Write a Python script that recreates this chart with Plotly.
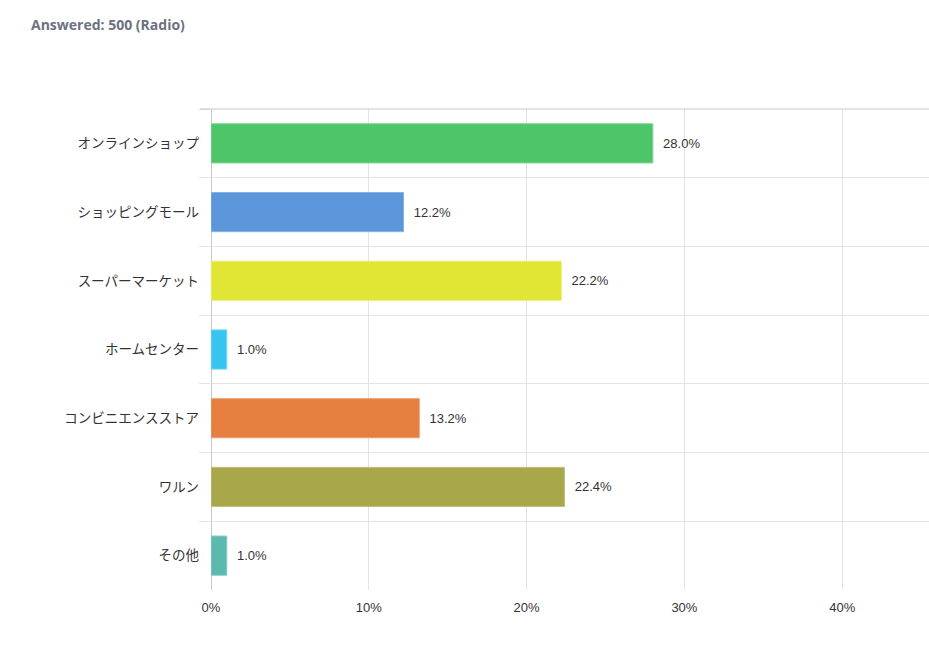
import plotly.graph_objects as go

categories = ["オンラインショップ", "ショッピングモール", "スーパーマーケット", "ホームセンター",
              "コンビニエンスストア", "ワルン", "その他"]
values = [28.0, 12.2, 22.2, 1.0, 13.2, 22.4, 1.0]
colors = ["#4FC56A", "#5B96DA", "#E1E534", "#35C5F0", "#E67E40", "#A8A84A", "#5BB9AE"]
border_colors = ["#7ED494", "#86B1E3", "#EAEE72", "#6FD6F4", "#EDA06F", "#C0C07A", "#87CBC3"]
x_ticks = [0, 10, 20, 30, 40]
x_ticktext = ["0%", "10%", "20%", "30%", "40%"]

font_family = "Arial, 'Liberation Sans', 'Noto Sans CJK JP', sans-serif"

fig = go.Figure()
fig.add_trace(go.Bar(
    x=values, y=categories, orientation="h",
    marker=dict(color=colors, line=dict(color=border_colors, width=1)),
    width=0.57,
    text=[f"  {v:.1f}%" for v in values],
    textposition="outside",
    textfont=dict(size=13, color="#333333", family=font_family),
    cliponaxis=False,
    hoverinfo="skip",
))

fig.update_layout(
    width=929, height=653,
    margin=dict(l=211, r=0, t=109, b=63),
    paper_bgcolor="white", plot_bgcolor="white",
    showlegend=False,
    font=dict(family=font_family, color="#333333"),
    annotations=[dict(
        text="<b>Answered: 500 (Radio)</b>", xref="paper", yref="paper",
        x=-211/718 + 29/718, y=1 + 85/481, xanchor="left", yanchor="middle",
        showarrow=False, font=dict(size=14, color="#6B7280", family="'Open Sans', sans-serif"),
    )],
    shapes=[dict(type="line", xref="paper", yref="paper", x0=-11/718, x1=1, y0=1, y1=1,
                 line=dict(color="#C8C8C8", width=1))],
)

fig.update_xaxes(
    range=[0, 45.5], tickvals=x_ticks, ticktext=x_ticktext,
    showgrid=True, gridcolor="#E3E3E3", gridwidth=1,
    zeroline=True, zerolinecolor="#C8C8C8", zerolinewidth=1,
    tickfont=dict(size=13, color="#333333"), ticks="", ticklabelstandoff=8,
    fixedrange=True,
)
fig.update_yaxes(
    type="category", autorange="reversed",
    tickson="boundaries", showgrid=True, gridcolor="#E3E3E3", gridwidth=1,
    ticks="outside", ticklen=11, tickcolor="#E3E3E3", tickwidth=1,
    tickfont=dict(size=13.5, color="#333333"), ticklabelstandoff=11,
    showline=False, zeroline=False, fixedrange=True,
)

fig.write_html("out.html")
